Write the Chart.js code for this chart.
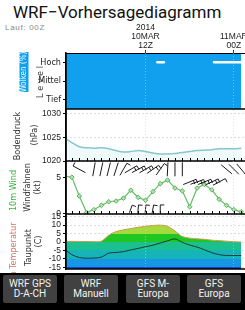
<!DOCTYPE html>
<html lang="de">
<head>
    <meta charset="UTF-8">
    <title>WRF-Vorhersagediagramm</title>
    <script src="https://cdn.jsdelivr.net/npm/chart.js"></script>
    <style>
        html, body { margin: 0; padding: 0; }
        body { width: 245px; height: 310px; overflow: hidden; position: relative; background: #fff; font-family: Roboto, 'Liberation Sans', sans-serif; }
        .titel { position: absolute; left: 13px; top: 1px; font-size: 17px; line-height: 22px; color: #111; white-space: nowrap; }
        .lauf { position: absolute; left: 5px; top: 23px; font: 8px/10px 'Liberation Sans', sans-serif; color: #888; letter-spacing: 0.7px; }
        #diagramm { position: absolute; left: 0; top: 0; }
        .knopfleiste { position: absolute; left: 0; top: 273px; width: 245px; height: 37px; background: #000; }
        .knopf { position: absolute; top: 2px; height: 28px; width: 54px; background: #414141; color: #f2f2f2; font: 10px/10px Roboto, sans-serif; display: flex; align-items: center; justify-content: center; text-align: center; border-radius: 2px; }
    </style>
</head>
<body>
    <div class="titel">WRF−Vorhersagediagramm</div>
    <div class="lauf">Lauf: 00Z</div>
    <canvas id="diagramm" width="300" height="277"></canvas>

    <div class="knopfleiste">
        <div class="knopf" style="left:3px">WRF GPS<br>D-A-CH</div>
        <div class="knopf" style="left:64px">WRF<br>Manuell</div>
        <div class="knopf" style="left:126px">GFS M-<br>Europa</div>
        <div class="knopf" style="left:187px">GFS<br>Europa</div>
    </div>

<script>
    // Stunden ab 10MAR 00Z
    const stunden = [1, 2, 3, 4, 5, 6, 7, 8, 9, 10, 11, 12, 13, 14, 15, 16, 17, 18, 19, 20, 21, 22, 23, 24, 25];
    const datumTicks = [12, 24];
    const datumLabels = [['2014', '10MAR', '12Z'], ['', '11MAR', '00Z']];

    // Wolken
    const wolkenLevel = ['Tief', 'Mittel', 'Hoch'];
    const wolkenBedeckung = [100, 100, 100, 100, 100, 100, 100, 100, 100, 100, 100, 100, 100, 100, 100, 100, 100, 100, 100, 100, 100, 100, 100, 100, 100];
    const hochFreiVon = [13.6, 21.3];
    const hochFreiBis = [14.5, 25.2];

    // Bodendruck (hPa)
    const druckTicks = [1020, 1025, 1030];
    const druck = [1024.9, 1023.9, 1023.0, 1022.8, 1022.7, 1022.8, 1022.6, 1022.2, 1021.9, 1022.0, 1022.2, 1022.0, 1021.7,
                   1021.5, 1021.5, 1021.6, 1021.8, 1022.0, 1022.2, 1022.3, 1022.4, 1022.6, 1022.6, 1022.6, 1022.7];

    // 10m Wind (kt)
    const windTicks = [0, 5];
    const windKt = [5.15, 5.0, 2.4, 0.1, 0.5, 1.1, 1.6, 1.7, 2.1, 3.2, 2.2, 1.8, 3.0, 4.1, 4.6, 3.5, 3.1, 0.9, 3.5, 4.0, 3.25, 1.95, 1.1, 0.5, 0.2];

    // Windfahnen: Stunde, Winkel (Grad), Anzahl Federn
    const fahnenObenStunden = [3, 5, 6, 7, 8, 9, 10, 11, 12, 13, 14, 15, 16, 17, 23, 24, 25];
    const fahnenObenWinkel = [-62, 10, 12, 14, 18, 30, 60, 62, 60, 55, 35, 3, 0, 0, -50, -45, -40];
    const fahnenObenFedern = [1, 0, 0, 0, 0, 1, 2, 2, 2, 2, 1, 0, 0, 0, 0, 0, 0];
    const fahnenMitteStunden = [18, 19, 20, 21, 22];
    const fahnenMitteWinkel = [68, 70, 68, 65, 62];
    const fahnenMitteFedern = [2, 2, 2, 2, 1];
    const fahnenUntenStunden = [10, 11, 12, 13, 14];
    const fahnenUntenWinkel = [20, 5, 5, 10, 0];
    const fahnenUntenFedern = [1, 1, 1, 1, 1];

    // 2m Temperatur und Taupunkt (C)
    const tempTicks = [-15, -10, -5, 0, 5, 10, 15];
    const temperatur = [0.4, 0.4, 0.3, 0.3, 0.2, 0.5, 4.0, 6.2, 7.2, 8.0, 8.7, 9.3, 9.8, 10.0, 9.3, 6.5, 3.2, 2.3, 1.9, 1.6, 1.1, 0.8, 0.5, 0.2, 0.0];
    const taupunkt = [-4.3, -7.5, -9.2, -9.6, -9.5, -9.0, -6.6, -6.2, -5.7, -4.7, -3.8, -2.8, -1.9, -0.6, 0.7, 1.8, -0.2, -1.8, -3.0, -4.6, -6.3, -7.5, -8.0, -8.0, -8.0];
    const tempStufen = [5, 0, -5, -10, -15];
    const tempFarben = ['#a3da3c', '#20c622', '#1cbf8e', '#16b3b8', '#1597e6', '#1f3fc4'];

    const wolkenBlau = '#11a0ee';
    const schriftSchmal = "'Liberation Sans Narrow', 'DejaVu Sans Condensed', 'Liberation Sans', sans-serif";

    Chart.defaults.font.family = "'Liberation Sans', Arial, sans-serif";

    const punkte = werte => stunden.map((h, i) => ({x: h, y: werte[i]}));

    // weiße Lücken in den hohen Wolken
    const hochLuecken = [];
    hochFreiVon.forEach((von, i) => {
        hochLuecken.push({x: von, y: 2.5}, {x: hochFreiBis[i], y: 2.5}, {x: hochFreiBis[i] + 0.1, y: null});
    });

    // Temperaturfarben nach Höhe (feste Stufen)
    function tempVerlauf(context) {
        const chart = context.chart;
        const s = chart.scales.yTemp;
        if (!chart.chartArea || !s) return tempFarben[1];
        const oben = s.top, unten = s.bottom;
        const g = chart.ctx.createLinearGradient(0, oben, 0, unten);
        const anteil = v => Math.min(1, Math.max(0, (s.getPixelForValue(v) - oben) / (unten - oben)));
        let start = 0;
        tempStufen.forEach((grenze, i) => {
            const f = anteil(grenze);
            g.addColorStop(start, tempFarben[i]);
            g.addColorStop(f, tempFarben[i]);
            start = f;
        });
        g.addColorStop(start, tempFarben[tempFarben.length - 1]);
        g.addColorStop(1, tempFarben[tempFarben.length - 1]);
        return g;
    }

    // Rahmen zwischen den Panels + Stundenstriche
    const panelRahmen = {
        id: 'panelRahmen',
        afterDatasetsDraw(chart) {
            const {ctx, chartArea} = chart;
            const x = chart.scales.x;
            ctx.save();
            ctx.strokeStyle = '#000';
            ctx.lineWidth = 1.5;
            ctx.beginPath();
            ['yWolken', 'yDruck', 'yWind', 'yTemp'].forEach(id => {
                const s = chart.scales[id];
                ctx.moveTo(chartArea.left, s.bottom);
                ctx.lineTo(chartArea.right, s.bottom);
            });
            ctx.moveTo(chartArea.left, chartArea.top);
            ctx.lineTo(chartArea.left, chartArea.bottom);
            ctx.stroke();

            ctx.lineWidth = 1;
            ctx.beginPath();
            ctx.moveTo(chartArea.left, chartArea.top + 0.5);
            ctx.lineTo(chartArea.right, chartArea.top + 0.5);
            ['yDruck', 'yWind'].forEach(id => {
                const s = chart.scales[id];
                for (let h = Math.ceil(x.min); h <= x.max; h++) {
                    const px = Math.round(x.getPixelForValue(h)) + 0.5;
                    ctx.moveTo(px, s.bottom);
                    ctx.lineTo(px, s.bottom - 3);
                }
            });
            ctx.stroke();
            ctx.restore();
        }
    };

    // Windfahnen
    const fahnenReihen = [
        {stunden: fahnenObenStunden, winkel: fahnenObenWinkel, federn: fahnenObenFedern, hoehe: 6.1, laenge: 14},
        {stunden: fahnenMitteStunden, winkel: fahnenMitteWinkel, federn: fahnenMitteFedern, hoehe: 4.35, laenge: 14},
        {stunden: fahnenUntenStunden, winkel: fahnenUntenWinkel, federn: fahnenUntenFedern, hoehe: 0.6, laenge: 8}
    ];
    const windfahnen = {
        id: 'windfahnen',
        afterDatasetsDraw(chart) {
            const {ctx} = chart;
            const x = chart.scales.x, y = chart.scales.yWind;
            ctx.save();
            ctx.strokeStyle = '#1a1a1a';
            ctx.lineWidth = 1;
            ctx.beginPath();
            fahnenReihen.forEach(r => r.stunden.forEach((h, i) => {
                const cx = x.getPixelForValue(h), cy = y.getPixelForValue(r.hoehe);
                const a = r.winkel[i] * Math.PI / 180;
                const dx = Math.sin(a), dy = -Math.cos(a);
                const x2 = cx + dx * r.laenge / 2, y2 = cy + dy * r.laenge / 2;
                ctx.moveTo(cx - dx * r.laenge / 2, cy - dy * r.laenge / 2);
                ctx.lineTo(x2, y2);
                for (let k = 0; k < r.federn[i]; k++) {
                    const bx = x2 - dx * k * 3, by = y2 - dy * k * 3;
                    ctx.moveTo(bx, by);
                    ctx.lineTo(bx - dy * 4, by + dx * 4);
                }
            }));
            ctx.stroke();
            ctx.restore();
        }
    };

    // Beschriftung links (gedreht)
    const seitenTexte = {
        id: 'seitenTexte',
        afterDraw(chart) {
            const {ctx} = chart;
            const mitte = id => (chart.scales[id].top + chart.scales[id].bottom) / 2;
            const texte = [
                {text: 'Bodendruck', x: 17.5, y: mitte('yDruck') + 1, farbe: '#333'},
                {text: '(hPa)', x: 35, y: mitte('yDruck'), farbe: '#333'},
                {text: '10m Wind', x: 14, y: mitte('yWind') + 3, farbe: '#3cb43c'},
                {text: 'Windfahnen', x: 27.5, y: mitte('yWind'), farbe: '#333'},
                {text: '(kt)', x: 37.5, y: mitte('yWind'), farbe: '#333'},
                {text: '2m Temperatur', x: 14, y: mitte('yTemp') + 12, farbe: '#cf7a62'},
                {text: 'Taupunkt', x: 28.5, y: mitte('yTemp') + 6, farbe: '#333'},
                {text: '(C)', x: 38.5, y: mitte('yTemp'), farbe: '#333'},
                {text: 'L e v e l', x: 41, y: mitte('yWolken') + 1, farbe: '#444'}
            ];
            ctx.save();
            // blauer Kasten "Wolken (%)"
            const wy = mitte('yWolken') - 9;
            ctx.fillStyle = wolkenBlau;
            ctx.fillRect(19.5, wy - 20, 9, 40);
            ctx.textAlign = 'center';
            ctx.textBaseline = 'middle';
            const dreh = (t, x, y, farbe) => {
                ctx.save();
                ctx.translate(x, y);
                ctx.rotate(-Math.PI / 2);
                ctx.fillStyle = farbe;
                ctx.fillText(t, 0, 0);
                ctx.restore();
            };
            ctx.font = '8px ' + schriftSchmal;
            dreh('Wolken (%)', 24, wy, '#fff');
            ctx.font = '9px ' + schriftSchmal;
            texte.forEach(t => dreh(t.text, t.x, t.y, t.farbe));
            ctx.restore();
        }
    };

    const yAchse = (min, max, gewicht, tickWerte, extra) => Object.assign({
        type: 'linear',
        position: 'left',
        stack: 'panels',
        stackWeight: gewicht,
        min: min,
        max: max,
        afterBuildTicks: s => { s.ticks = tickWerte.map(v => ({value: v})); },
        afterFit: s => { s.width = 66; },
        ticks: { autoSkip: false, padding: 2, color: '#222', font: {size: 8.5}, callback: v => String(v) },
        grid: { drawOnChartArea: false, color: '#bbb', tickColor: '#000', tickLength: 3 },
        border: { color: '#000', width: 1.5, dash: [1, 3] }
    }, extra);

    new Chart(document.getElementById('diagramm'), {
        type: 'line',
        data: {
            datasets: [
                {
                    label: '10m Wind',
                    data: punkte(windKt),
                    yAxisID: 'yWind',
                    borderColor: '#66bd66',
                    borderWidth: 1.2,
                    pointStyle: 'rectRot',
                    pointRadius: 2.3,
                    pointBackgroundColor: 'rgba(175,228,175,0.95)',
                    pointBorderColor: '#58b058',
                    pointBorderWidth: 1,
                    tension: 0
                },
                {
                    label: 'Bodendruck',
                    data: punkte(druck),
                    yAxisID: 'yDruck',
                    borderColor: '#86c6cc',
                    borderWidth: 1.5,
                    backgroundColor: 'rgba(170,225,230,0.18)',
                    fill: 'start',
                    pointRadius: 0,
                    tension: 0.3
                },
                {
                    label: 'Taupunkt',
                    data: punkte(taupunkt),
                    yAxisID: 'yTemp',
                    borderColor: '#183a3a',
                    borderWidth: 1,
                    pointRadius: 0,
                    tension: 0.3
                },
                {
                    label: '2m Temperatur',
                    data: punkte(temperatur),
                    yAxisID: 'yTemp',
                    borderColor: '#c99a55',
                    borderWidth: 1,
                    backgroundColor: tempVerlauf,
                    fill: 'start',
                    pointRadius: 0,
                    tension: 0.3
                },
                {
                    label: 'Hohe Wolken frei',
                    data: hochLuecken,
                    yAxisID: 'yWolken',
                    borderColor: '#ffffff',
                    borderWidth: 2.5,
                    borderCapStyle: 'round',
                    pointRadius: 0,
                    spanGaps: false
                },
                {
                    label: 'Wolken',
                    data: stunden.map((h, i) => ({x: h, y: 3 * wolkenBedeckung[i] / 100})),
                    yAxisID: 'yWolken',
                    borderWidth: 0,
                    backgroundColor: wolkenBlau,
                    fill: 'start',
                    pointRadius: 0
                }
            ]
        },
        options: {
            responsive: false,
            animation: false,
            layout: { padding: { top: 0, left: 0, right: 0, bottom: 8 } },
            plugins: { legend: { display: false }, tooltip: { enabled: false } },
            scales: {
                x: {
                    type: 'linear',
                    position: 'top',
                    min: 1.2,
                    max: 32.3,
                    afterBuildTicks: s => { s.ticks = datumTicks.map(v => ({value: v})); },
                    afterFit: s => { s.height = 53; },
                    ticks: {
                        callback: (v, i) => datumLabels[i],
                        autoSkip: false,
                        maxRotation: 0,
                        padding: 0,
                        color: '#222',
                        font: { size: 8.5, lineHeight: 1.05 }
                    },
                    grid: { z: 1, color: 'rgba(195,205,228,0.6)', tickColor: '#333', tickLength: 3 },
                    border: { display: false, dash: [1, 2] }
                },
                yTemp: yAchse(-16, 16.6, 55, tempTicks, {
                    grid: { drawOnChartArea: true, color: '#bdbdbd', tickColor: '#000', tickLength: 3 }
                }),
                yWind: yAchse(-0.1, 7.25, 53, windTicks),
                yDruck: yAchse(1020, 1031, 52, druckTicks, {
                    grid: { drawOnChartArea: true, color: '#bdbdbd', tickColor: '#000', tickLength: 3 }
                }),
                yWolken: yAchse(0, 3, 56, [0.5, 1.5, 2.5], {
                    ticks: {
                        autoSkip: false, padding: 2, color: '#222',
                        font: { size: 9, family: schriftSchmal },
                        callback: (v, i) => wolkenLevel[i]
                    }
                })
            }
        },
        plugins: [panelRahmen, windfahnen, seitenTexte]
    });
</script>
</body>
</html>
